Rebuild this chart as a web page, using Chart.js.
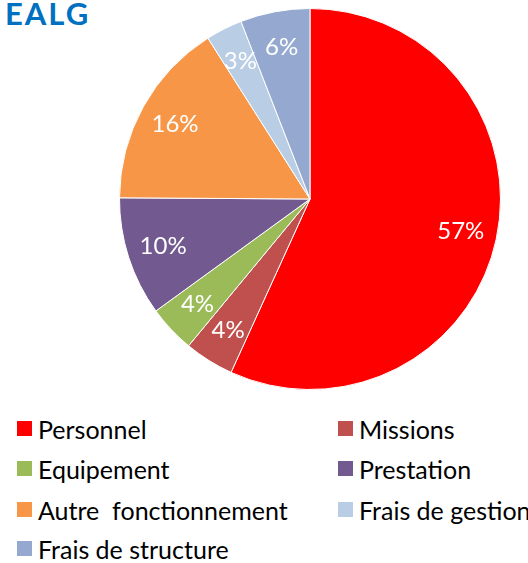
<!DOCTYPE html>
<html>
<head>
<meta charset="utf-8">
<script src="https://cdn.jsdelivr.net/npm/chart.js@4"></script>
<style>
  html, body { margin: 0; padding: 0; background: #fff; }
  body { width: 528px; height: 563px; position: relative; overflow: hidden; font-family: Lato, "Open Sans", sans-serif; }
  #title { position: absolute; left: 5px; top: -6px; font-size: 31px; font-weight: bold; color: #0070C0; letter-spacing: 2px; }
  #pieBox { position: absolute; left: 119px; top: 8px; width: 382px; height: 382px; }
  #legend { position: absolute; left: 0; top: 0; }
  .item { position: absolute; font-size: 25px; color: #000; white-space: nowrap; line-height: 24px; }
  .item span.box { position: absolute; left: 0; top: 0; width: 15px; height: 15px; }
  .item span.txt { position: absolute; left: 21px; top: -4px; white-space: pre; }
</style>
</head>
<body>
<div id="title">EALG</div>
<div id="pieBox"><canvas id="pie"></canvas></div>
<div id="legend"></div>
<script>
// Data (share of the budget, %)
const categories = ['Personnel', 'Missions', 'Equipement', 'Prestation', 'Autre  fonctionnement', 'Frais de gestion', 'Frais de structure'];
const shares = [56.8, 4.2, 4.0, 10.1, 15.9, 3.1, 5.9];
const colors = ['#FF0000', '#C0504D', '#9BBB59', '#72598F', '#F79646', '#B9CDE5', '#95A9D0'];

// white percentage labels inside the slices
const sliceLabels = {
    id: 'sliceLabels',
    afterDatasetsDraw(chart) {
        const ctx = chart.ctx;
        const meta = chart.getDatasetMeta(0);
        const data = chart.data.datasets[0].data;
        const total = data.reduce((a, b) => a + b, 0);
        ctx.save();
        ctx.fillStyle = '#fff';
        ctx.font = '24px Lato';
        ctx.textAlign = 'center';
        ctx.textBaseline = 'middle';
        meta.data.forEach((arc, i) => {
            const p = arc.getProps(['x', 'y', 'startAngle', 'endAngle', 'outerRadius'], true);
            const mid = (p.startAngle + p.endAngle) / 2;
            const r = p.outerRadius * 0.81;
            ctx.fillText(Math.round(data[i] / total * 100) + '%', p.x + Math.cos(mid) * r, p.y + Math.sin(mid) * r);
        });
        ctx.restore();
    }
};

const chart = new Chart(document.getElementById('pie'), {
    type: 'pie',
    data: {
        labels: categories,
        datasets: [{
            data: shares,
            backgroundColor: colors,
            borderColor: '#fff',
            borderWidth: 1
        }]
    },
    options: {
        responsive: true,
        maintainAspectRatio: false,
        animation: false,
        layout: { padding: 0 },
        plugins: {
            legend: { display: false },
            tooltip: { enabled: false }
        }
    },
    plugins: [sliceLabels]
});

// Legend in two columns under the pie
const legend = document.getElementById('legend');
const colX = [17, 338];
const rowY = [421, 461, 502, 541];
chart.data.labels.forEach((label, i) => {
    const div = document.createElement('div');
    div.className = 'item';
    div.style.left = colX[i % 2] + 'px';
    div.style.top = rowY[Math.floor(i / 2)] + 'px';
    div.innerHTML = `<span class="box" style="background:${colors[i]}"></span><span class="txt"></span>`;
    div.querySelector('.txt').textContent = label;
    legend.appendChild(div);
});
</script>
</body>
</html>
